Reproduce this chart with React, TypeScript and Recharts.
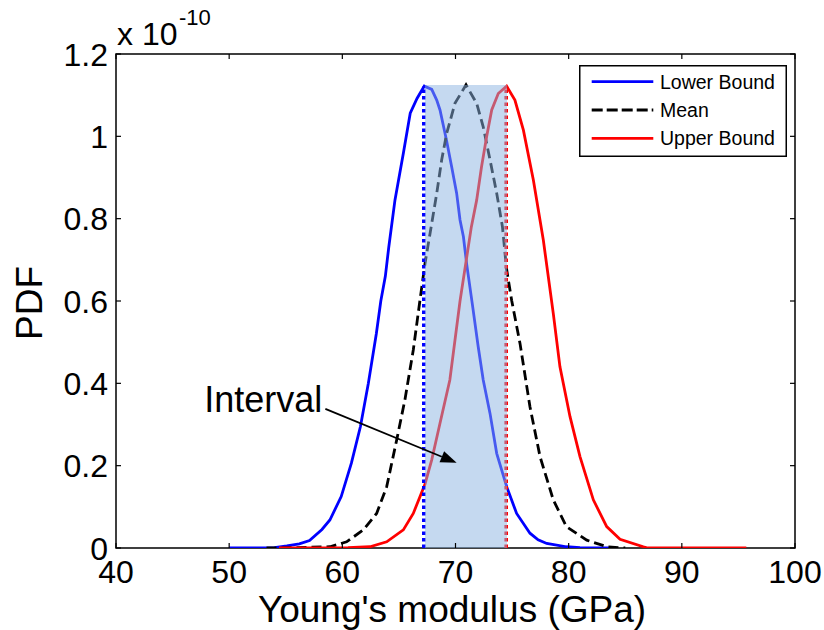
import React from 'react';
import { LineChart, Line, XAxis, YAxis, ReferenceArea, ReferenceLine, Legend } from 'recharts';

// Young's modulus (GPa) samples and PDF values (x 1e-10)
const lowerX = [50, 52, 54, 55.1, 56.2, 57.1, 58.2, 58.9, 59.9, 60.8, 61.6, 62.3, 63.0, 63.4, 63.8, 64.1, 64.65, 65.4, 66.0, 66.6, 67.24, 67.9, 68.34, 68.63, 69.2, 69.66, 70.1, 70.4, 70.7, 71.0, 71.5, 72.0, 72.45, 73.05, 73.64, 74.52, 75.4, 76.58, 77.3, 78.06, 79.8, 81, 83.6];
const lowerY = [0, 0, 0.001, 0.005, 0.01, 0.018, 0.045, 0.068, 0.125, 0.206, 0.295, 0.4, 0.52, 0.6, 0.66, 0.73, 0.845, 0.96, 1.056, 1.092, 1.122, 1.114, 1.088, 1.064, 0.991, 0.926, 0.862, 0.797, 0.756, 0.687, 0.59, 0.49, 0.408, 0.327, 0.23, 0.149, 0.084, 0.036, 0.02, 0.011, 0.003, 0.001, 0];

const meanX = [53.3, 56, 58.9, 60.38, 61.85, 63.03, 63.92, 64.8, 65.53, 66.27, 66.86, 67.3, 67.75, 68.34, 68.78, 69.22, 69.95, 70.93, 71.87, 72.45, 73.05, 73.64, 74.15, 74.5, 74.96, 75.7, 76.58, 77.47, 78.64, 79.8, 81.6, 83.4, 85];
const meanY = [0, 0.001, 0.003, 0.015, 0.044, 0.084, 0.149, 0.262, 0.36, 0.481, 0.602, 0.69, 0.764, 0.861, 0.943, 1.007, 1.08, 1.125, 1.08, 1.023, 0.943, 0.862, 0.78, 0.68, 0.602, 0.497, 0.343, 0.222, 0.117, 0.052, 0.019, 0.003, 0];

const upperX = [54.4, 58, 60.5, 62.44, 63.92, 65.39, 66.27, 67.3, 67.9, 68.63, 69.5, 70.4, 71.4, 71.87, 72.3, 72.75, 73.2, 73.78, 74.52, 75.25, 76, 76.88, 77.76, 78.64, 79.23, 80.12, 81, 82.18, 83.36, 84.54, 86.6, 87, 95.7];
const upperY = [0, 0, 0.001, 0.003, 0.015, 0.044, 0.084, 0.155, 0.214, 0.303, 0.408, 0.6, 0.78, 0.845, 0.926, 0.999, 1.064, 1.104, 1.122, 1.088, 1.015, 0.894, 0.748, 0.57, 0.44, 0.319, 0.222, 0.117, 0.052, 0.021, 0.003, 0, 0];

const seriesNames = ['Lower Bound', 'Mean', 'Upper Bound'];
const seriesColors = ['#0000ff', '#000000', '#ff0000'];
const seriesDash = ['', '10 5', ''];

const xTicks = [40, 50, 60, 70, 80, 90, 100];
const yTicks = [0, 0.2, 0.4, 0.6, 0.8, 1, 1.2];

const intervalLow = 67.3;
const intervalHigh = 74.55;
const lowerMark = 67.2;
const upperMark = 74.48;
const intervalTop = 1.125;
const boundPeak = 1.122;
const arrowStart = { x: 58.5, y: 0.338 };
const arrowEnd = { x: 70.1, y: 0.207 };

const W = 824;
const H = 630;
const LEFT = 116;
const RIGHT = 795;
const TOP = 54;
const BOTTOM = 548;
const FONT = '"Liberation Sans", Arial, Helvetica, sans-serif';

const toRows = (xs: number[], ys: number[]) => xs.map((x, i) => ({ x, y: ys[i] }));
const seriesData = [toRows(lowerX, lowerY), toRows(meanX, meanY), toRows(upperX, upperY)];

const XTick = (props: any) => {
  const { x, payload } = props;
  return (
    <g>
      <line x1={x} x2={x} y1={BOTTOM} y2={BOTTOM - 5} stroke="#000" strokeWidth={1.2} />
      <line x1={x} x2={x} y1={TOP} y2={TOP + 5} stroke="#000" strokeWidth={1.2} />
      <text x={x} y={583} textAnchor="middle" fontSize={32} fill="#000">{payload.value}</text>
    </g>
  );
};

const YTick = (props: any) => {
  const { y, payload } = props;
  return (
    <g>
      <line x1={LEFT} x2={LEFT + 5} y1={y} y2={y} stroke="#000" strokeWidth={1.2} />
      <line x1={RIGHT} x2={RIGHT - 5} y1={y} y2={y} stroke="#000" strokeWidth={1.2} />
      <text x={108} y={y + 11.5} textAnchor="end" fontSize={32} fill="#000">{String(payload.value)}</text>
    </g>
  );
};

const XTitle = () => (
  <text x={452} y={622} textAnchor="middle" fontSize={37} fill="#000">Young's modulus (GPa)</text>
);

const YTitle = () => (
  <g>
    <text x={42} y={303} textAnchor="middle" fontSize={37} fill="#000" transform="rotate(-90 42 303)">PDF</text>
    <text x={117} y={45} fontSize={32} fill="#000">x 10</text>
    <text x={179} y={25} fontSize={22} fill="#000">-10</text>
  </g>
);

const ArrowShape = (props: any) => {
  const { x1, y1, x2, y2 } = props;
  const ang = Math.atan2(y2 - y1, x2 - x1);
  const len = 16;
  const half = 6;
  const bx = x2 - len * Math.cos(ang);
  const by = y2 - len * Math.sin(ang);
  const px = -Math.sin(ang) * half;
  const py = Math.cos(ang) * half;
  return (
    <g>
      <line x1={x1} y1={y1} x2={bx} y2={by} stroke="#000" strokeWidth={1.7} />
      <polygon points={`${x2},${y2} ${bx + px},${by + py} ${bx - px},${by - py}`} fill="#000" />
      <text x={x1 - 3} y={y1 + 3} textAnchor="end" fontSize={36} fill="#000">Interval</text>
    </g>
  );
};

// dotted marker at the peak of each bound
const DottedMark = (props: any) => {
  const { x1, y1, x2, y2, stroke } = props;
  return <line x1={x1} y1={y1} x2={x2} y2={y2} stroke={stroke} strokeWidth={3.6} strokeDasharray="3.5 3" />;
};

const LegendBox = () => (
  <svg width={208} height={92} style={{ display: 'block', fontFamily: FONT }}>
    <rect x={0.75} y={0.75} width={206.5} height={90.5} fill="#fff" stroke="#000" strokeWidth={1.5} />
    {seriesNames.map((name, i) => {
      const cy = 16.7 + i * 28.3;
      return (
        <g key={name}>
          <line x1={12.7} x2={74.3} y1={cy} y2={cy} stroke={seriesColors[i]} strokeWidth={2.8}
            strokeDasharray={i === 1 ? '11 4' : undefined} />
          <text x={81} y={cy + 7} fontSize={19.5} fill="#000">{name}</text>
        </g>
      );
    })}
  </svg>
);

export default function App() {
  return (
    <div style={{ position: 'absolute', left: 0, top: 0, width: W, height: H, fontFamily: FONT, background: '#fff' }}>
      <LineChart width={W} height={H} margin={{ top: TOP, right: W - RIGHT, bottom: 0, left: 0 }} style={{ fontFamily: FONT }}>
        <XAxis type="number" dataKey="x" domain={[40, 100]} ticks={xTicks} interval={0} height={H - BOTTOM}
          axisLine={false} tickLine={false} tick={<XTick />} label={{ content: XTitle }} allowDataOverflow />
        <YAxis type="number" dataKey="y" domain={[0, 1.2]} ticks={yTicks} interval={0} width={LEFT}
          axisLine={false} tickLine={false} tick={<YTick />} label={{ content: YTitle }} allowDataOverflow />
        <ReferenceArea x1={40} x2={100} y1={0} y2={1.2} fill="none" stroke="#000" strokeWidth={1.5} />
        {seriesData.map((rows, i) => (
          <Line key={seriesNames[i]} data={rows} dataKey="y" name={seriesNames[i]} type="linear" dot={false}
            activeDot={false} stroke={seriesColors[i]} strokeWidth={2.8}
            strokeDasharray={seriesDash[i] || undefined} isAnimationActive={false} />
        ))}
        <ReferenceLine segment={[{ x: lowerMark, y: 0 }, { x: lowerMark, y: boundPeak }]} stroke="#0000ff"
          shape={DottedMark} zIndex={420} />
        <ReferenceLine segment={[{ x: upperMark, y: 0 }, { x: upperMark, y: boundPeak }]} stroke="#ff0000"
          shape={DottedMark} zIndex={420} />
        <ReferenceArea x1={intervalLow} x2={intervalHigh} y1={0} y2={intervalTop} fill="rgb(140,180,225)"
          fillOpacity={0.5} stroke="none" zIndex={450} />
        <ReferenceLine segment={[arrowStart, arrowEnd]} shape={ArrowShape} zIndex={600} />
        <Legend layout="vertical" align="center" verticalAlign="middle"
          wrapperStyle={{ position: 'absolute', left: 579, top: 65, width: 208, height: 92 }}
          content={() => <LegendBox />} />
      </LineChart>
    </div>
  );
}
